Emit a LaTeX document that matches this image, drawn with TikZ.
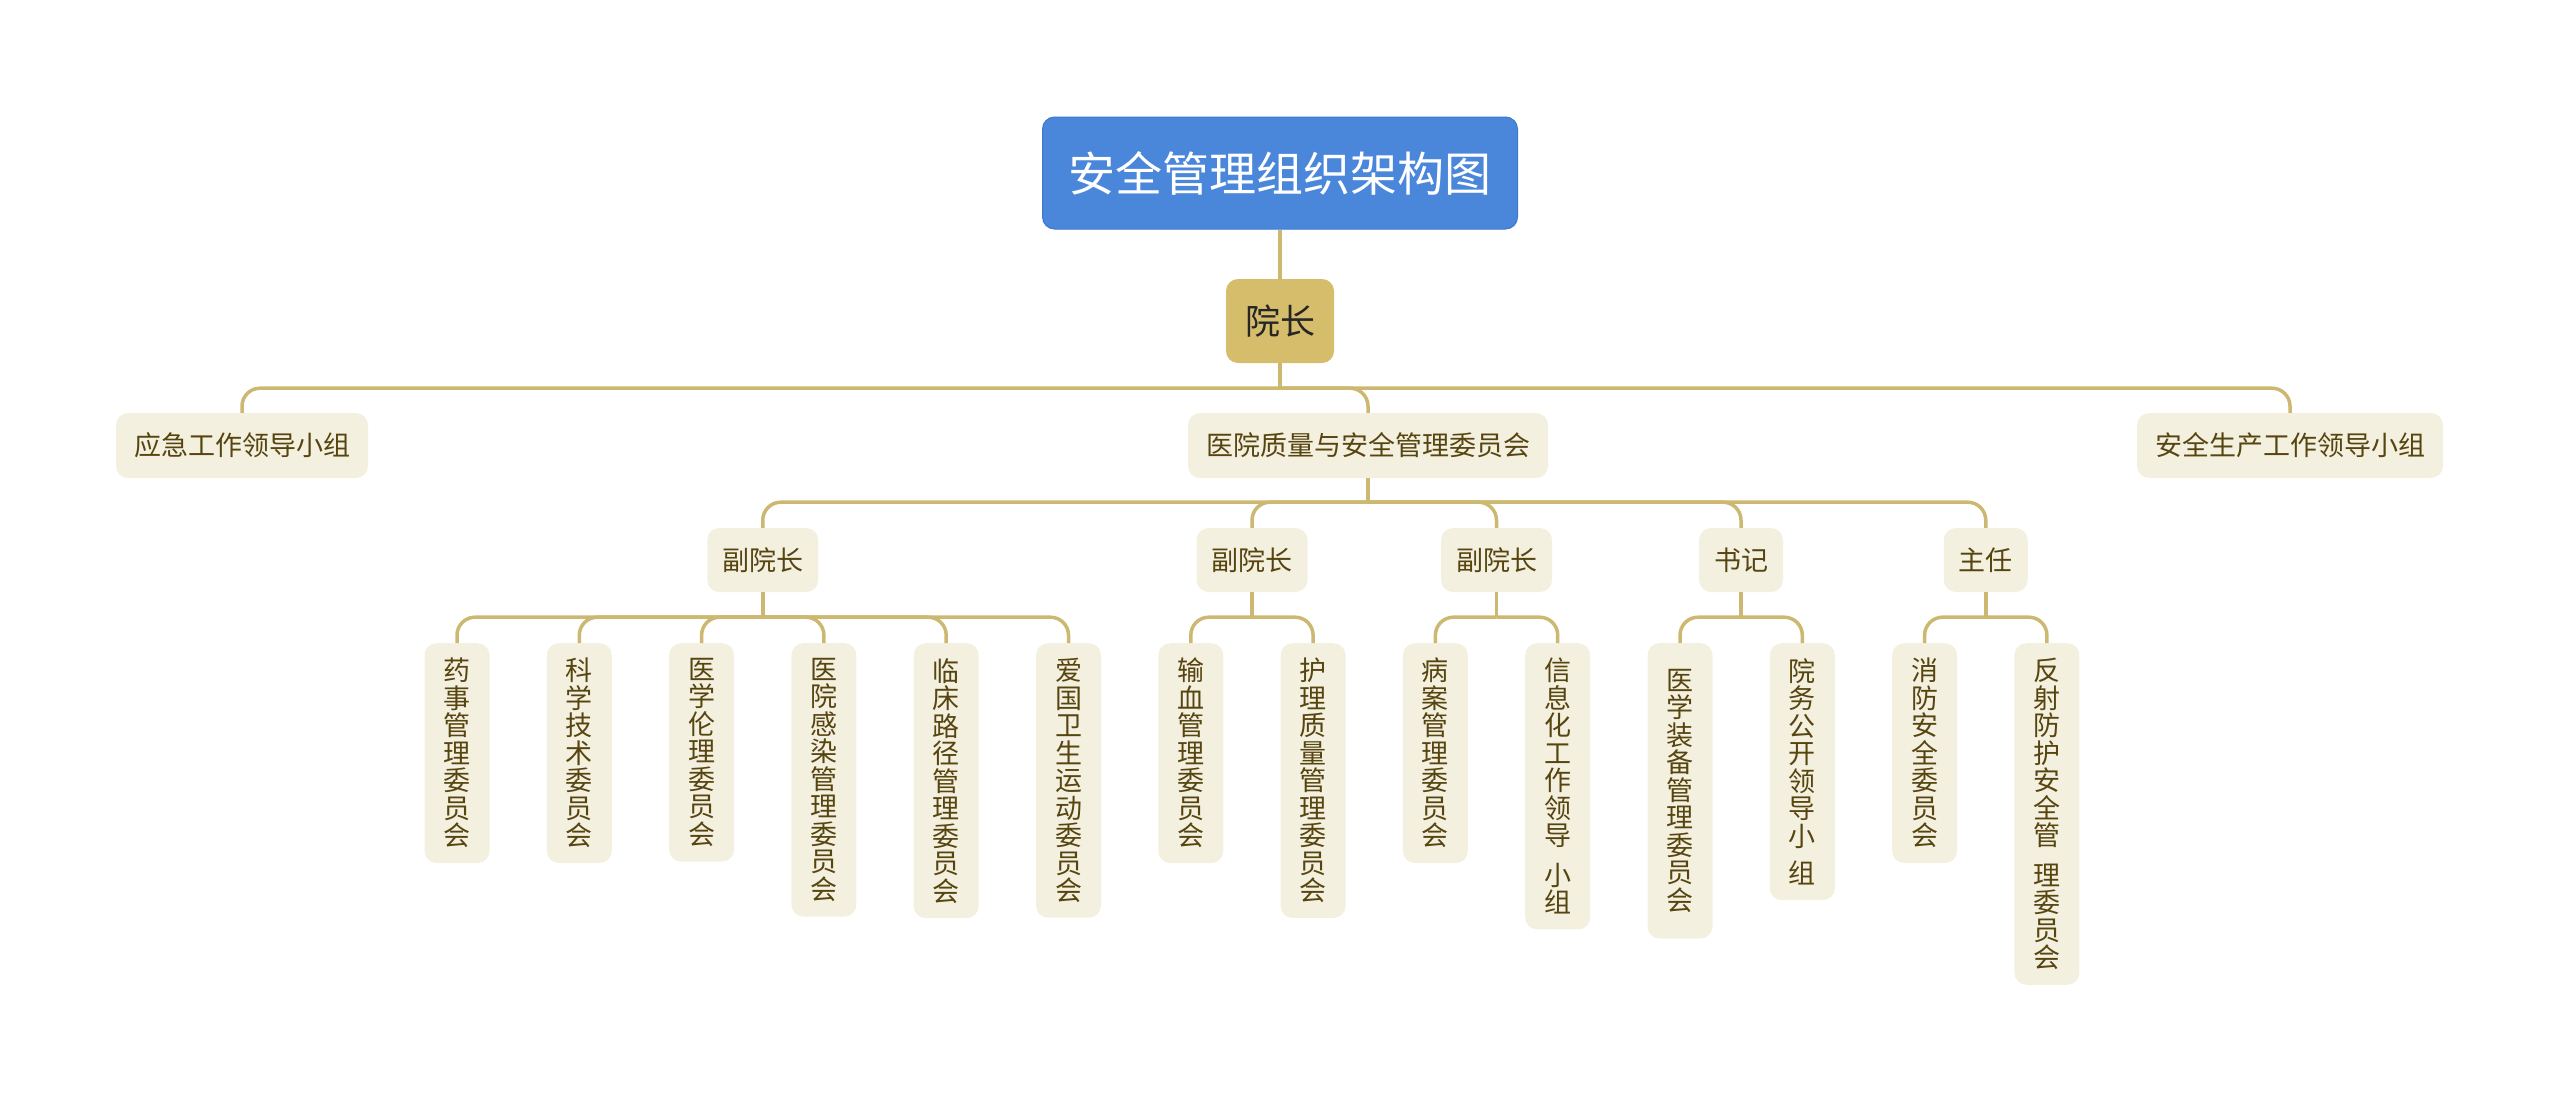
\documentclass[tikz,border=0pt]{standalone}
\usepackage{fontspec}
\setmainfont{Noto Sans CJK SC}
\usepackage{tikz}
\usetikzlibrary{calc}

\definecolor{titleblue}{HTML}{4A86DA}
\definecolor{titleedge}{HTML}{3E78CA}
\definecolor{headgold}{HTML}{D5BD6C}
\definecolor{boxcream}{HTML}{F4F0E0}
\definecolor{linkgold}{HTML}{CDB872}
\definecolor{textbrown}{HTML}{574510}

\begin{document}
\begin{tikzpicture}[x=1pt, y=-1pt,
    link/.style={draw=linkgold, line width=3.5pt, rounded corners=18pt},
    topic/.style={fill=titleblue, draw=titleedge, line width=1pt, rounded corners=12pt,
        text=white, font=\fontsize{47}{47}\selectfont, minimum width=475pt, minimum height=112pt},
    head/.style={fill=headgold, rounded corners=12pt, text=black!85,
        font=\fontsize{35}{35}\selectfont, minimum width=108pt, minimum height=84pt},
    branch/.style={fill=boxcream, rounded corners=12pt, text=textbrown,
        font=\fontsize{27}{27}\selectfont, inner xsep=18pt, minimum height=65pt},
    role/.style={fill=boxcream, rounded corners=12pt, text=textbrown,
        font=\fontsize{27}{27}\selectfont, inner xsep=15pt, minimum height=64pt},
    leaf/.style={fill=boxcream, rounded corners=12pt, text=textbrown, anchor=north,
        font=\fontsize{27}{27.5}\selectfont, align=center, inner xsep=19pt, inner ysep=15pt}
]

    \useasboundingbox (0,0) rectangle (2560,1101);

    % Titulo y direccion
    \node[topic] (title) at (1280,173) {安全管理组织架构图};
    \node[head] (head) at (1280,321) {院长};

    % Nivel 1
    \node[branch] (yj) at (242,445.5) {应急工作领导小组};
    \node[branch] (zl) at (1368,445.5) {医院质量与安全管理委员会};
    \node[branch] (aq) at (2290,445.5) {安全生产工作领导小组};

    % Nivel 2
    \node[role] (fy1) at (762.75,560) {副院长};
    \node[role] (fy2) at (1252,560) {副院长};
    \node[role] (fy3) at (1496.5,560) {副院长};
    \node[role] (sj) at (1741,560) {书记};
    \node[role] (zr) at (1985.75,560) {主任};

    % Nivel 3 (texto vertical)
    \node[leaf] (ys) at (457,643) {药\\事\\管\\理\\委\\员\\会};
    \node[leaf] (kx) at (579.3,643) {科\\学\\技\\术\\委\\员\\会};
    \node[leaf] (ll) at (701.6,643) {医\\学\\伦\\理\\委\\员\\会};
    \node[leaf] (gr) at (823.9,643) {医\\院\\感\\染\\管\\理\\委\\员\\会};
    \node[leaf] (lc) at (946.2,643) {临\\床\\路\\径\\管\\理\\委\\员\\会};
    \node[leaf] (ag) at (1068.5,643) {爱\\国\\卫\\生\\运\\动\\委\\员\\会};
    \node[leaf] (sx) at (1190.8,643) {输\\血\\管\\理\\委\\员\\会};
    \node[leaf] (hl) at (1313.1,643) {护\\理\\质\\量\\管\\理\\委\\员\\会};
    \node[leaf] (ba) at (1435.4,643) {病\\案\\管\\理\\委\\员\\会};
    \node[leaf] (xx) at (1557.7,643) {信\\息\\化\\工\\作\\领\\导\\[12pt]小\\组};
    \node[leaf, inner ysep=26pt] (zb) at (1680,643) {医\\学\\装\\备\\管\\理\\委\\员\\会};
    \node[leaf] (yw) at (1802.3,643) {院\\务\\公\\开\\领\\导\\小\\[10pt]组};
    \node[leaf] (xf) at (1924.6,643) {消\\防\\安\\全\\委\\员\\会};
    \node[leaf] (fs) at (2046.9,643) {反\\射\\防\\护\\安\\全\\管\\[12pt]理\\委\\员\\会};

    % Conexiones
    \draw[link] (title.south) -- (head.north);
    \draw[link] (head.south) -- ++(0,25) coordinate (b0);
    \foreach \c in {yj, zl, aq}
        \draw[link] (b0) -| (\c.north);

    \draw[link] (zl.south) -- ++(0,24) coordinate (b1);
    \foreach \c in {fy1, fy2, fy3, sj, zr}
        \draw[link] (b1) -| (\c.north);

    \foreach \p/\kids in {fy1/{ys,kx,ll,gr,lc,ag}, fy2/{sx,hl}, fy3/{ba,xx}, sj/{zb,yw}, zr/{xf,fs}}{
        \draw[link] (\p.south) -- ++(0,25) coordinate (\p-bus);
        \foreach \c in \kids
            \draw[link] (\p-bus) -| (\c.north);
    }

\end{tikzpicture}
\end{document}
